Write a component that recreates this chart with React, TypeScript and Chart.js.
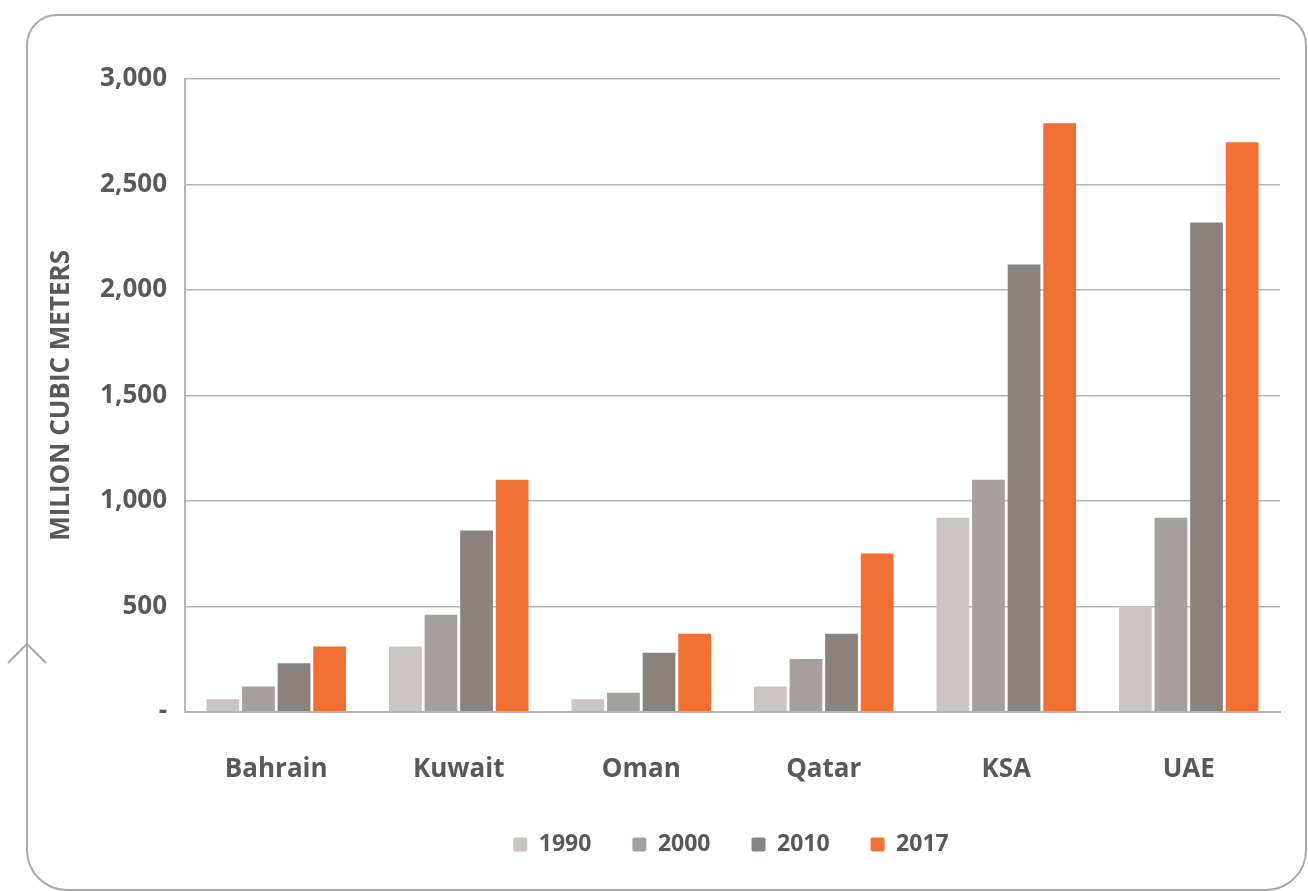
import { useEffect, useRef } from "react";
import { Chart, registerables } from "chart.js";

Chart.register(...registerables);

// Countries along the x axis
const countries = ["Bahrain", "Kuwait", "Oman", "Qatar", "KSA", "UAE"];

// Desalinated water production per year (million cubic meters)
const years = ["1990", "2000", "2010", "2017"];
const values1990 = [60, 310, 60, 120, 920, 500];
const values2000 = [120, 460, 90, 250, 1100, 920];
const values2010 = [230, 860, 280, 370, 2120, 2320];
const values2017 = [310, 1100, 370, 750, 2790, 2700];

const seriesColors = ["#cbc4c2", "#a8a09e", "#8b827e", "#f26f33"];

// Value axis range and step
const yMin = 0;
const yMax = 3000;
const yStep = 500;

const yTitle = "MILION CUBIC METERS";

const textColor = "#58595b";
const lineColor = "#b3b5b8";
const frameColor = "#a7a9ac";
const fontFamily = "'Open Sans', 'Noto Sans', sans-serif";

// Rounded outline with a small chevron on its left edge
const framePlugin = {
  id: "frame",
  beforeDraw(chart: Chart) {
    const ctx = chart.ctx;
    const l = 27;
    const t = 15;
    const r = 1306;
    const b = 890;
    const rt = 30;
    const rb = 40;
    ctx.save();
    ctx.strokeStyle = frameColor;
    ctx.lineWidth = 2;
    ctx.beginPath();
    ctx.moveTo(l, t + rt);
    ctx.arcTo(l, t, l + rt, t, rt);
    ctx.lineTo(r - rt, t);
    ctx.arcTo(r, t, r, t + rt, rt);
    ctx.lineTo(r, b - rb);
    ctx.arcTo(r, b, r - rb, b, rb);
    ctx.lineTo(l + rb, b);
    ctx.arcTo(l, b, l, b - rb, rb);
    ctx.closePath();
    ctx.stroke();
    // chevron
    ctx.beginPath();
    ctx.moveTo(8, 663);
    ctx.lineTo(l, 644);
    ctx.lineTo(46, 663);
    ctx.stroke();
    ctx.restore();
  },
};

// Slimmer legend box, centred under the plot area
const legendShiftPlugin = {
  id: "legendShift",
  beforeInit(chart: any) {
    const lg = chart.legend;
    if (!lg) return;
    const origFit = lg.fit.bind(lg);
    lg.fit = () => {
      origFit();
      lg.height -= 10;
    };
  },
  afterLayout(chart: any) {
    const lg = chart.legend;
    if (!lg) return;
    const dx = 71;
    const dy = -35;
    lg.left += dx;
    lg.right += dx;
    lg.top += dy;
    lg.bottom += dy;
  },
};

export default function App() {
  const canvasRef = useRef<HTMLCanvasElement | null>(null);

  useEffect(() => {
    const canvas = canvasRef.current;
    if (!canvas) return;
    const datasets = [values1990, values2000, values2010, values2017].map((data, i) => ({
      label: years[i],
      data,
      backgroundColor: seriesColors[i],
      borderWidth: 0,
      borderRadius: 0,
      barPercentage: 0.92,
      categoryPercentage: 0.78,
    }));

    const chart = new Chart(canvas, {
      type: "bar",
      data: { labels: countries, datasets },
      plugins: [framePlugin, legendShiftPlugin],
      options: {
        responsive: false,
        animation: false,
        devicePixelRatio: 1,
        layout: { padding: { left: 40, top: 79, right: 28, bottom: 0 } },
        plugins: {
          tooltip: { enabled: false },
          legend: {
            position: "bottom",
            labels: {
              boxWidth: 14,
              boxHeight: 14,
              useBorderRadius: true,
              borderRadius: 2,
              padding: 41,
              color: textColor,
              font: { family: fontFamily, size: 23, weight: "bold" },
            },
          },
        },
        scales: {
          x: {
            grid: { display: false, drawTicks: false },
            border: { display: true, color: lineColor, width: 2 },
            ticks: {
              color: textColor,
              padding: 42,
              font: { family: fontFamily, size: 26, weight: "bold" },
            },
          },
          y: {
            min: yMin,
            max: yMax,
            afterFit(scale: any) {
              scale.width = 145;
            },
            grid: { color: lineColor, lineWidth: 1.5, drawTicks: false },
            border: { display: true, color: lineColor, width: 2 },
            ticks: {
              stepSize: yStep,
              padding: 18,
              color: textColor,
              font: { family: fontFamily, size: 26, weight: "bold" },
              callback: (v: any) => (Number(v) === 0 ? "-" : Number(v).toLocaleString("en-US")),
            },
            title: {
              display: true,
              text: yTitle,
              color: textColor,
              padding: { top: 6, bottom: 0 },
              font: { family: fontFamily, size: 26, weight: "bold" },
            },
          },
        },
      },
    });
    return () => chart.destroy();
  }, []);

  return (
    <div style={{ position: "absolute", left: 0, top: 0, width: 1308, height: 891, background: "#ffffff" }}>
      <canvas ref={canvasRef} width={1308} height={891} />
    </div>
  );
}
